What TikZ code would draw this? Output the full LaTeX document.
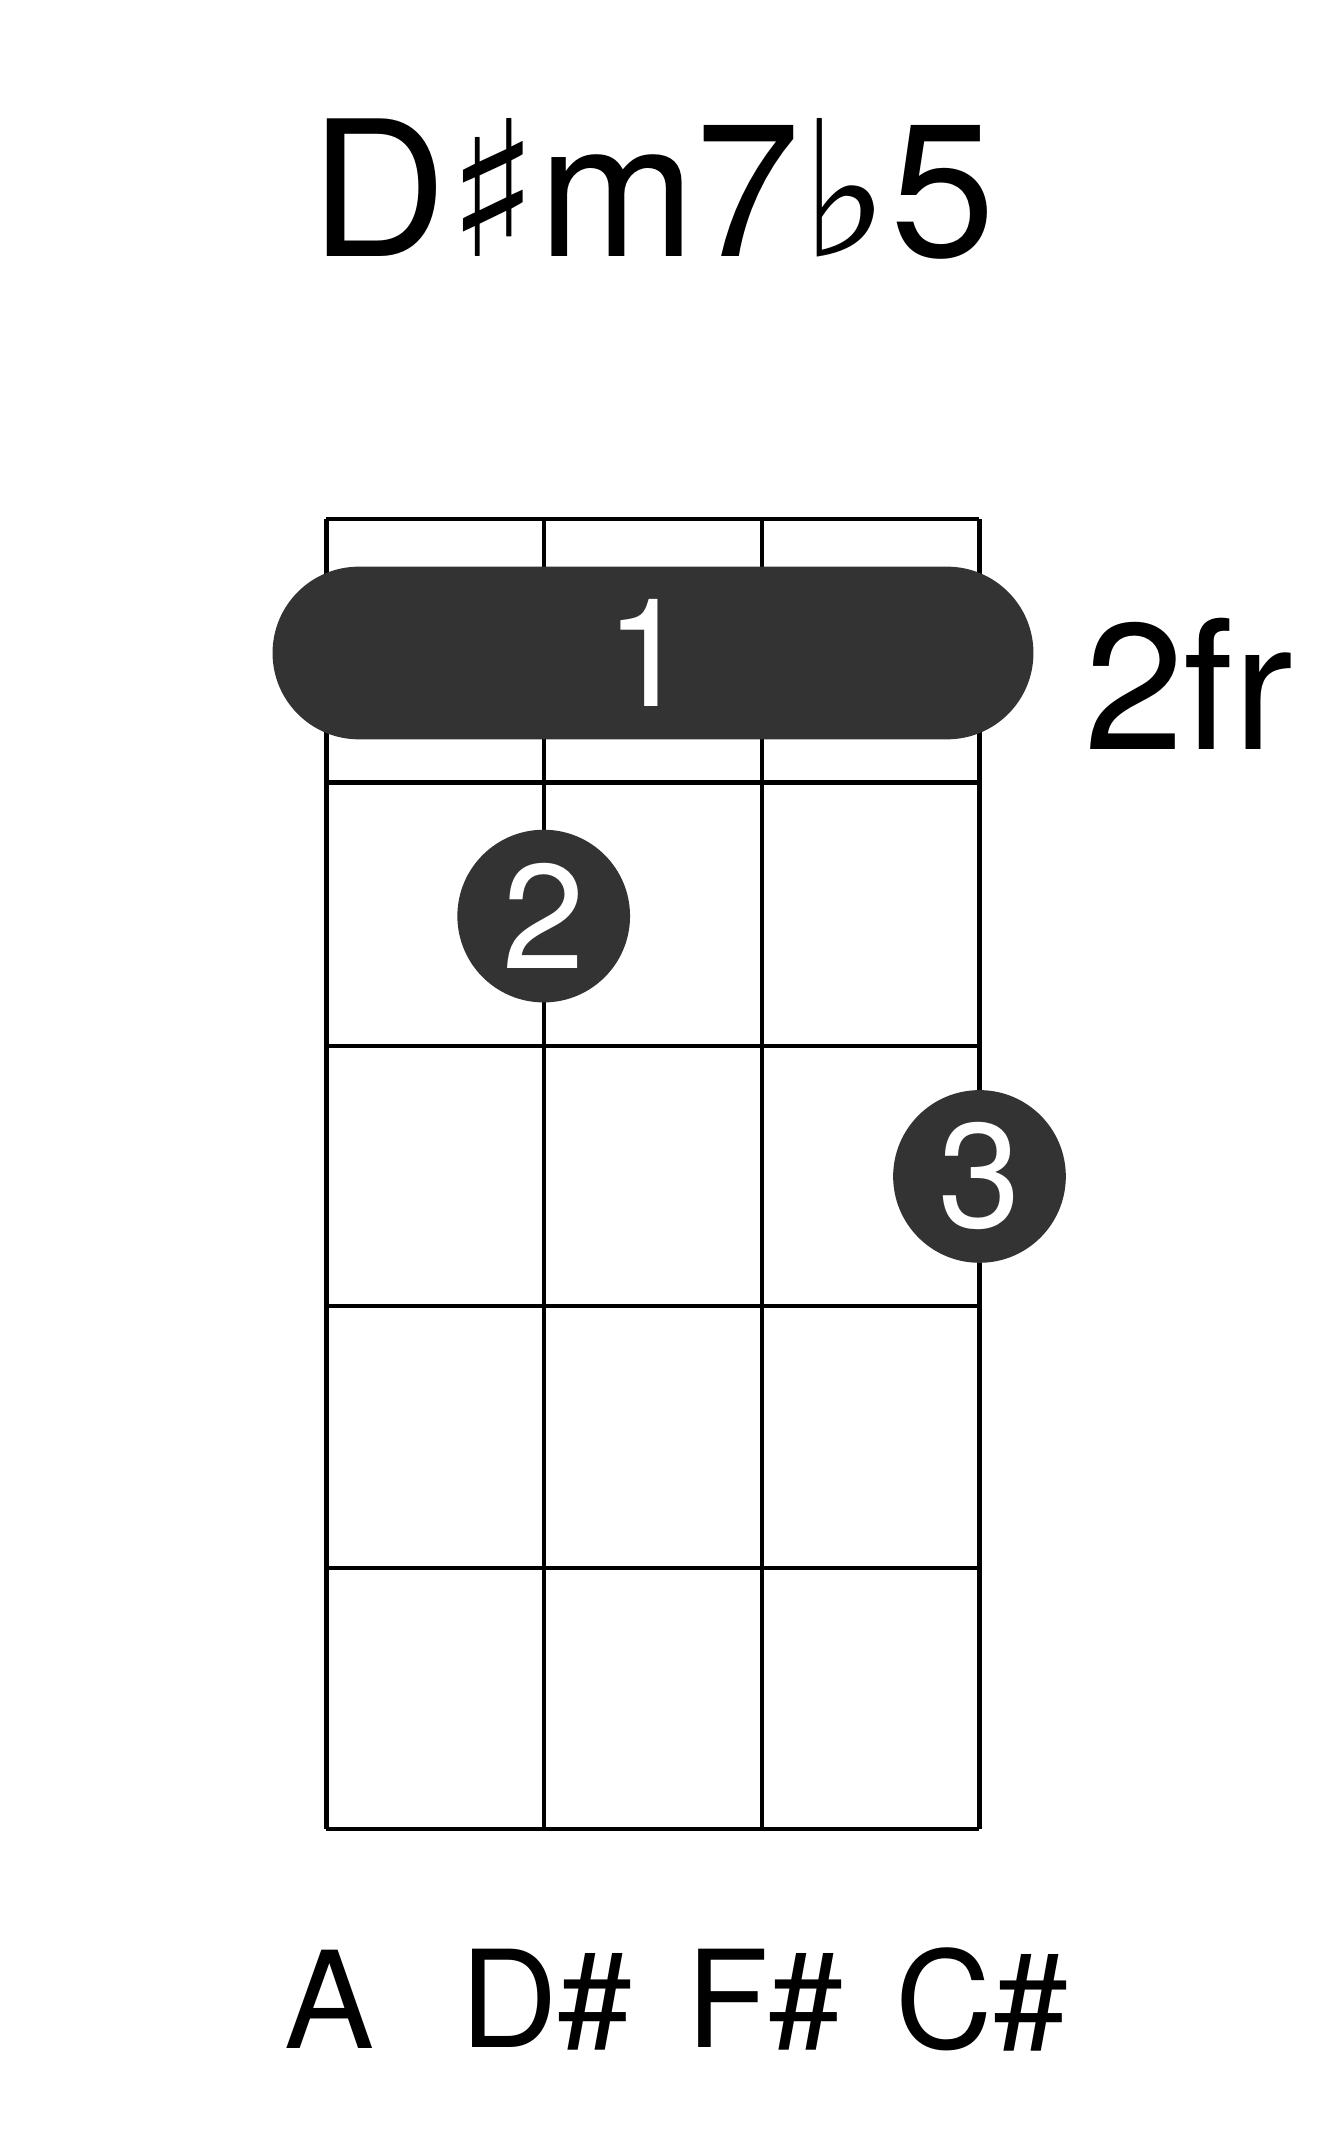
\documentclass[tikz,border=0pt]{standalone}
\usepackage{fontspec}
\setmainfont{TeX Gyre Heros}
\newfontfamily\symf{DejaVu Sans}
\definecolor{dot}{HTML}{333333}
\begin{document}
\begin{tikzpicture}[x=1pt,y=-1pt,
  gridline/.style={line width=3pt,black},
  fing/.style={circle,fill=dot,minimum size=128pt,inner sep=0pt,text=white,font=\fontsize{110}{110}\selectfont},
  lab/.style={font=\fontsize{100}{100}\selectfont}]
\useasboundingbox (0,0) rectangle (976,1581);
\foreach \x in {242,403,565,726} \draw[gridline] (\x,385) -- (\x,1356);
\foreach \y in {385,580,775,968,1162,1356} \draw[gridline] (242,\y) -- (726,\y);
\fill[dot,rounded corners=64pt] (202,420) rectangle (766,548);
\node[text=white,font=\fontsize{112}{112}\selectfont] (b) at (480,484) {1};
\node[fing] (f2) at (403,679) {2};
\node[fing] (f3) at (726,872) {3};
\node[font=\fontsize{133}{133}\selectfont,anchor=west] (fr) at (800,507) {2fr};
\node[font=\fontsize{140}{140}\selectfont] (t) at (484,140) {D{\symf ♯}m7{\symf ♭}5};
\node[lab] (s1) at (244,1482) {A};
\node[lab] (s2) at (405,1482) {D\#};
\node[lab] (s3) at (567,1482) {F\#};
\node[lab] (s4) at (728,1482) {C\#};
\end{tikzpicture}
\end{document}
